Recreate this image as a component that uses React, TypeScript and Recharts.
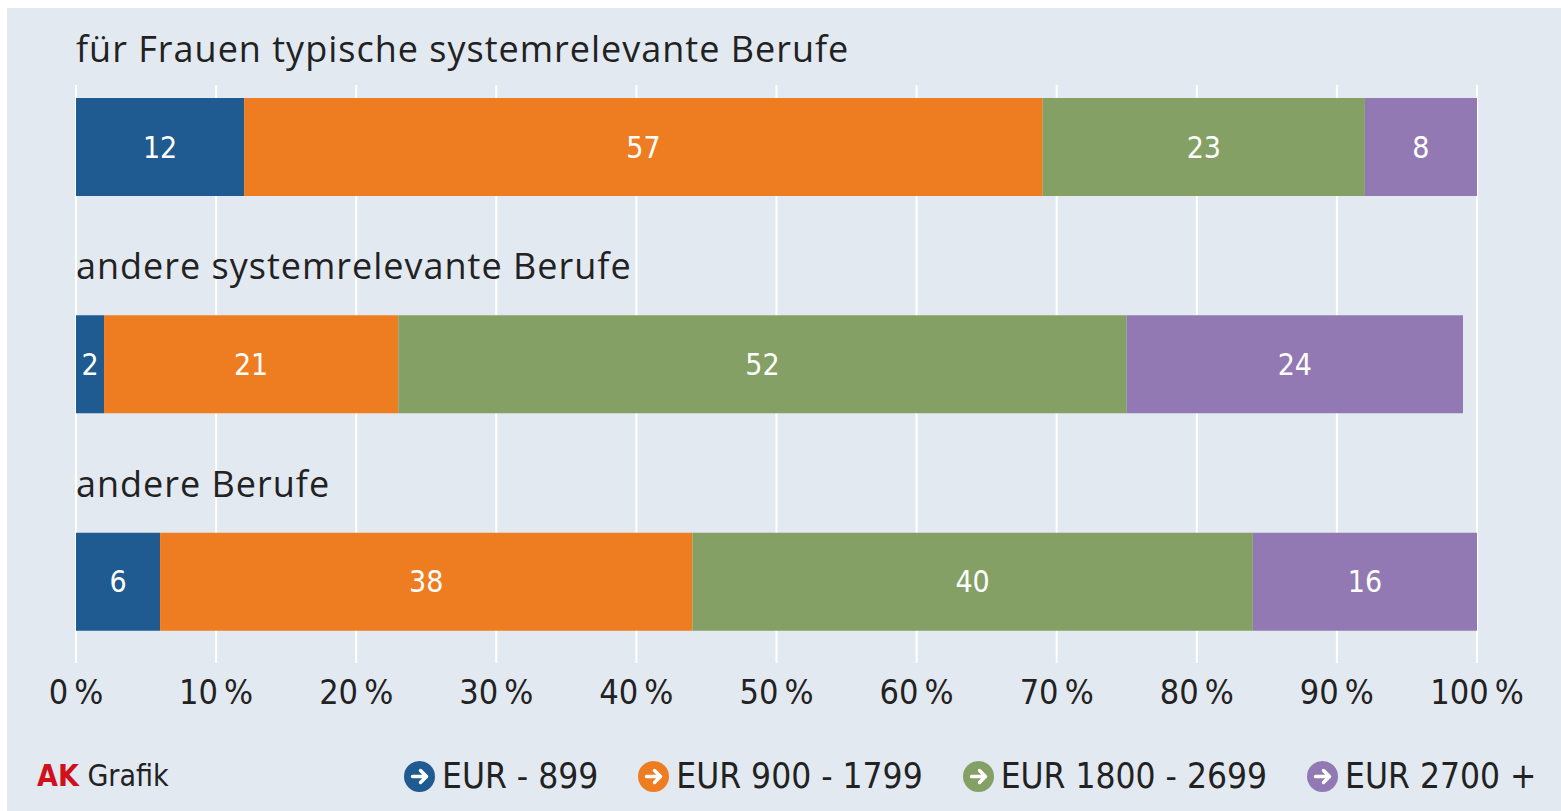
import React from "react";
import { BarChart, Bar, XAxis, YAxis, CartesianGrid, LabelList } from "recharts";

const categories = [
  "für Frauen typische systemrelevante Berufe",
  "andere systemrelevante Berufe",
  "andere Berufe",
];
const eurBis899 = [12, 2, 6];
const eur900bis1799 = [57, 21, 38];
const eur1800bis2699 = [23, 52, 40];
const eurAb2700 = [8, 24, 16];
const xTicks = [0, 10, 20, 30, 40, 50, 60, 70, 80, 90, 100];

const seriesNames = ["EUR - 899", "EUR 900 - 1799", "EUR 1800 - 2699", "EUR 2700 +"];
const seriesKeys = ["s1", "s2", "s3", "s4"];
const colors = ["#1f5b90", "#ee7d22", "#84a065", "#9379b3"];

const data = categories.map((name, i) => ({
  name,
  s1: eurBis899[i],
  s2: eur900bis1799[i],
  s3: eur1800bis2699[i],
  s4: eurAb2700[i],
}));

const BG = "#e3e9f0";
const TEXT = "#222222";
const TITLE_FONT = "'Open Sans', sans-serif";
const NARROW_FONT = "'DejaVu Sans Condensed', 'DejaVu Sans', sans-serif";

function XTick(props: any) {
  const { x, y, payload } = props;
  return (
    <text x={x} y={y + 14} textAnchor="middle" fill={TEXT} fontSize={34} fontFamily={NARROW_FONT}>
      {`${payload.value}\u202F%`}
    </text>
  );
}

function GridLine(props: any) {
  return <line key={props.key} x1={props.x1} x2={props.x2} y1={85} y2={663} stroke="#ffffff" strokeWidth={2} />;
}

function CategoryTitle(props: any) {
  const { x, y, value } = props;
  return (
    <text x={x} y={y - 36} fill={TEXT} fontSize={36} letterSpacing={1} fontFamily={TITLE_FONT}>
      {value}
    </text>
  );
}

function LegendArrow({ color }: { color: string }) {
  return (
    <svg width={31} height={31} viewBox="-15.5 -15.5 31 31" style={{ display: "block" }}>
      <circle r={15.5} fill={color} />
      <path d="M-7 0 H6 M1 -6 L7 0 L1 6" stroke="#ffffff" strokeWidth={3.5} fill="none" strokeLinecap="round" strokeLinejoin="round" />
    </svg>
  );
}

function LegendRow() {
  return (
    <div style={{ position: "absolute", left: 0, top: 748, width: 1561, height: 56 }}>
      <div style={{ position: "absolute", left: 37, top: 10, fontFamily: NARROW_FONT, fontSize: 30, color: TEXT }}>
        <span style={{ color: "#d0101b", fontWeight: 700 }}>AK</span> Grafik
      </div>
      <div style={{ position: "absolute", left: 404, top: 8, display: "flex", alignItems: "center", gap: 40 }}>
        {seriesNames.map((n, i) => (
          <div key={n} style={{ display: "flex", alignItems: "center", gap: 7 }}>
            <LegendArrow color={colors[i]} />
            <span style={{ fontFamily: NARROW_FONT, fontSize: 35, color: TEXT }}>{n}</span>
          </div>
        ))}
      </div>
    </div>
  );
}

export default function App() {
  return (
    <div
      style={{
        position: "relative",
        width: 1561,
        height: 811,
        background: BG,
        boxSizing: "border-box",
        borderTop: "8px solid #ffffff",
        borderLeft: "7px solid #ffffff",
        overflow: "hidden",
      }}
    >
      <style>{"body{margin:0}"}</style>
      <div style={{ position: "absolute", left: -7, top: -8, width: 1561, height: 811 }}>
        <BarChart
          width={1561}
          height={811}
          data={data}
          layout="vertical"
          margin={{ top: 38, right: 84, bottom: 81, left: 76 }}
          barSize={98}
        >
          <CartesianGrid horizontal={false} vertical={GridLine} />
          <XAxis
            type="number"
            domain={[0, 100]}
            ticks={xTicks}
            axisLine={false}
            tickLine={false}
            tickSize={0}
            tickMargin={0}
            height={40}
            tick={<XTick />}
            interval={0}
          />
          <YAxis type="category" dataKey="name" hide />
          {seriesKeys.map((k, i) => (
            <Bar key={k} dataKey={k} name={seriesNames[i]} stackId="a" fill={colors[i]} isAnimationActive={false}>
              <LabelList
                dataKey={k}
                position="center"
                fill="#ffffff"
                fontSize={30}
                fontFamily={NARROW_FONT}
              />
              {i === 0 && <LabelList dataKey="name" content={<CategoryTitle />} />}
            </Bar>
          ))}
        </BarChart>
        <LegendRow />
      </div>
    </div>
  );
}
